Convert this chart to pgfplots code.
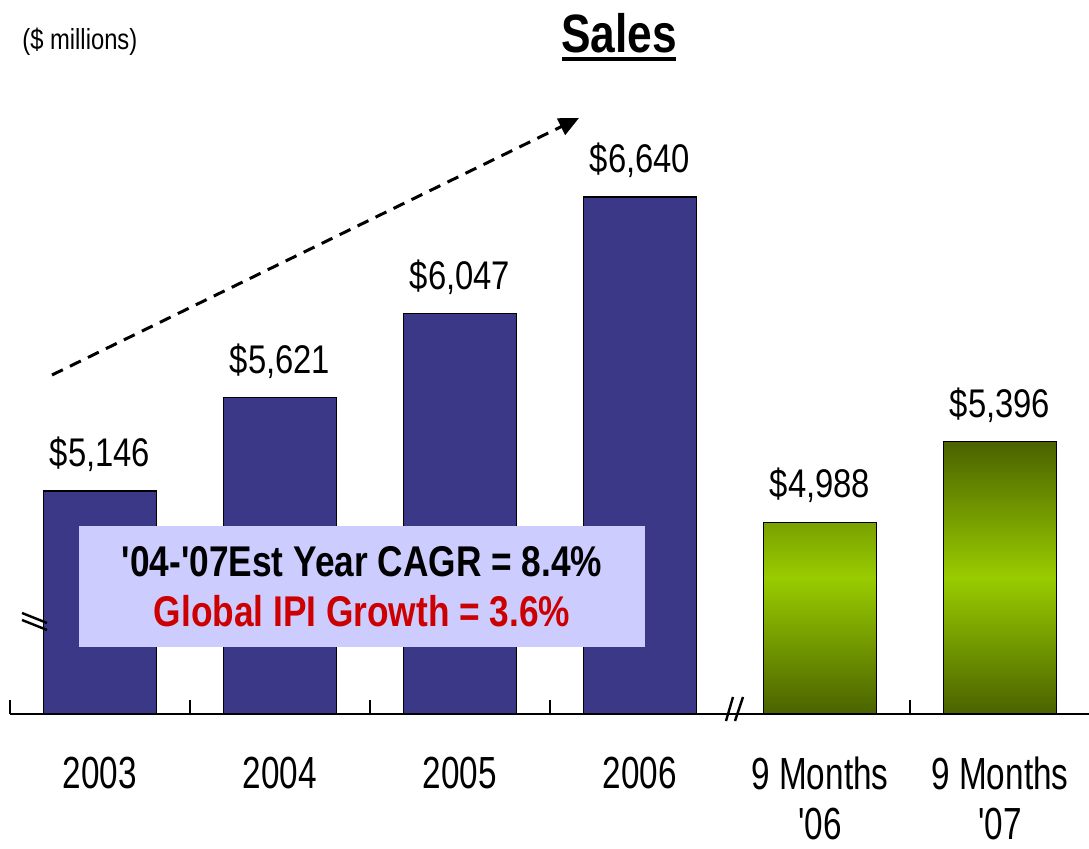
\documentclass[border=0pt]{standalone}
\usepackage{fontspec}
\setmainfont{Liberation Sans}[Ligatures=TeXOff, FakeStretch=0.82]
\newfontfamily\narrowfont{Liberation Sans}[Ligatures=TeXOff, FakeStretch=0.74]
\usepackage{pgfplots}
\pgfplotsset{compat=1.18}
\usetikzlibrary{arrows.meta}
\definecolor{barblue}{RGB}{59,56,136}
\definecolor{gdark}{RGB}{74,98,0}
\definecolor{glime}{RGB}{153,204,0}
\definecolor{boxfill}{RGB}{204,204,255}
\definecolor{ipired}{RGB}{204,0,0}

\begin{document}
\begin{tikzpicture}
\begin{axis}[
  at={(0,0)}, anchor=south west,
  scale only axis, width=540pt, height=293.9pt,
  ybar, bar width=56.5pt, bar shift=0pt,
  xmin=-0.5, xmax=5.5, ymin=4013, ymax=7000,
  axis x line*=bottom, hide y axis,
  axis line style={line width=0.75pt, -},
  xtick={0,...,5},
  xticklabels={2003,2004,2005,2006,{9 Months\\'06},{9 Months\\'07}},
  major tick length=0pt,
  minor xtick={-0.5,0.5,1.5,2.5,4.5},
  minor tick length=7pt,
  minor x tick style={line width=0.6pt, black},
  tick align=inside,
  xticklabel style={font=\narrowfont\fontsize{22.5}{25}\selectfont, align=center, anchor=north, yshift=-18pt},
  point meta=explicit symbolic,
  nodes near coords,
  every node near coord/.append style={font=\fontsize{20}{24}\selectfont, yshift=6pt, black},
  clip=false,
]
\addplot[fill=barblue, draw=black, line width=0.6pt] coordinates {
  (0,5146) [\$5,146] (1,5621) [\$5,621] (2,6047) [\$6,047] (3,6640) [\$6,640]
};
\addplot[draw=black, line width=0.6pt, top color=gdark, bottom color=gdark, middle color=glime] coordinates {
  (4,4988) [\$4,988] (5,5396) [\$5,396]
};
\end{axis}

% annotations, in pixel units of the reference
\begin{scope}[x=0.5pt, y=-0.5pt, shift={(-5pt,357pt)}]
  \draw[line width=1.5pt, dash pattern=on 6pt off 4pt, -{Triangle[length=10pt,width=9pt]}]
    (52,375) -- (579,118);
  \node[fill=boxfill, minimum width=283pt, minimum height=60.5pt, align=center,
        font=\bfseries\fontsize{21.5}{25}\selectfont] at (362,587)
    {'04-'07Est Year CAGR = 8.4\%\\\textcolor{ipired}{Global IPI Growth = 3.6\%}};
  \node[font=\bfseries\fontsize{27}{32}\selectfont, anchor=base, inner sep=0pt] at (619,53) {Sales};
  \draw[line width=2pt] (562,59.5) -- (676,59.5);
  \node[font=\fontsize{14.5}{17}\selectfont, anchor=base west, inner sep=0pt] at (22,50) {(\$ millions)};
  \draw[line width=1.2pt] (22,613) -- (47,623) (22,620) -- (47,630);
  \draw[line width=1.2pt] (733,697) -- (726,721) (743,697) -- (735,721);
  \pgfresetboundingbox
  \path[use as bounding box] (0,0) rectangle (1089,849);
\end{scope}
\end{tikzpicture}
\end{document}
